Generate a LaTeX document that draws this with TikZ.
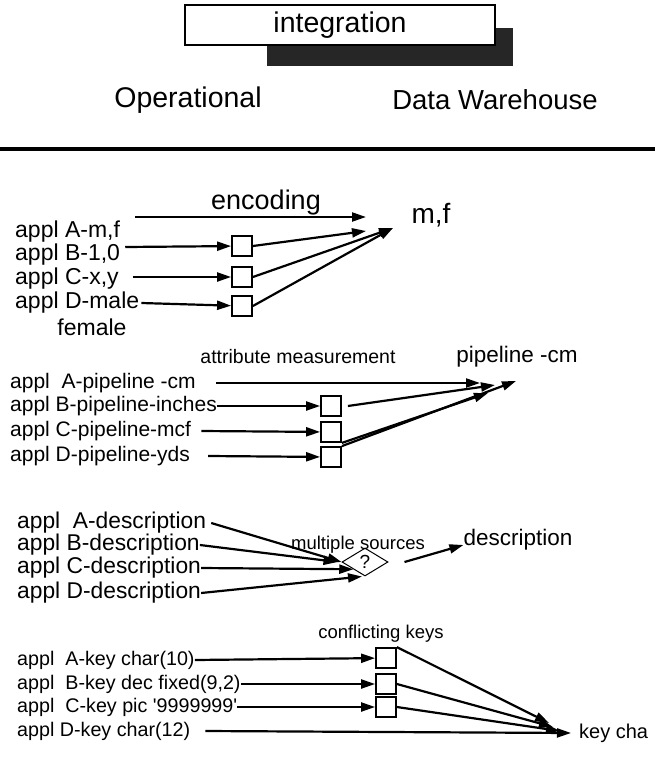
\documentclass[tikz,border=0pt]{standalone}
\usepackage{fontspec}
\setmainfont{Liberation Sans}
\usetikzlibrary{arrows.meta,shapes.geometric}
\begin{document}
\begin{tikzpicture}[x=1pt,y=-1pt,
  lbl/.style={anchor=west,inner sep=0pt,font=\fontsize{#1}{24}\selectfont},
  lbl/.default=21.5,
  ttl/.style={inner sep=0pt,font=\fontsize{#1}{24}\selectfont},
  ttl/.default=21.5,
  head/.style={inner sep=0pt,font=\fontsize{28.5}{32}\selectfont},
  sq/.style={draw,line width=1.8pt,minimum size=20pt,inner sep=0pt},
  arr/.style={line width=2.2pt,-{Triangle[length=14pt,width=9pt]}}]
\useasboundingbox (0,0) rectangle (655,763);
\fill[black!85] (267,28) rectangle (513,66);
\node (integ) [draw,fill=white,line width=1.2pt,minimum width=310pt,minimum height=40pt,head] at (340,25) {integration};
\node (oper) [head] at (188,100) {Operational};
\node (dw) [head,font=\fontsize{27.5}{32}\selectfont] at (495,100) {Data Warehouse};
\draw[line width=4pt] (0,149) -- (655,149);

\node (enc) [ttl=27] at (266,203) {encoding};
\node (mf) [ttl=28] at (431,215) {m,f};
\node (a1) [lbl=23] at (15,232) {appl A-m,f};
\node (b1) [lbl=23] at (15,255) {appl B-1,0};
\node (c1) [lbl=23] at (15,279) {appl C-x,y};
\node (d1) [lbl=23] at (15,303) {appl D-male};
\node (fem) [ttl=23] at (92,327) {female};
\node (bx1b) [sq] at (242,246) {};
\node (bx1c) [sq] at (242,277) {};
\node (bx1d) [sq] at (242,306) {};
\coordinate (t1a) at (366,217);
\coordinate (t1b) at (366,231);
\coordinate (t1c) at (393,228);
\draw[arr] ([xshift=15pt,yshift=15pt]a1.east) -- (t1a);
\draw[arr] ([xshift=5pt,yshift=8pt]b1.east) -- (bx1b);
\draw[arr] ([xshift=14pt,yshift=2pt]c1.east) -- (bx1c);
\draw[arr] ([xshift=2pt]d1.east) -- (bx1d);
\draw[arr] (bx1b.east) -- (t1b);
\draw[arr] (bx1c.east) -- (t1c);
\draw[arr] (bx1d.east) -- (t1c);

\node (attr) [ttl=19.5] at (298,357) {attribute measurement};
\node (pcm) [ttl=22.5] at (517,357) {pipeline -cm};
\node (a2) [lbl=21] at (10,383) {appl\ \ A-pipeline -cm};
\node (b2) [lbl=21] at (10,406) {appl B-pipeline-inches};
\node (c2) [lbl=21] at (10,431) {appl C-pipeline-mcf};
\node (d2) [lbl=21] at (10,456) {appl D-pipeline-yds};
\node (bx2b) [sq] at (331,406) {};
\node (bx2c) [sq] at (331,432) {};
\node (bx2d) [sq] at (331,457) {};
\coordinate (t2a) at (480,383);
\coordinate (t2b) at (495,385);
\coordinate (t2c) at (488,393);
\coordinate (t2d) at (516,381);
\draw[arr] ([xshift=20pt]a2.east) -- (t2a);
\draw[arr] (b2.east) -- (bx2b);
\draw[arr] ([xshift=10pt]c2.east) -- (bx2c);
\draw[arr] ([xshift=18pt]d2.east) -- (bx2d);
\draw[arr] ([xshift=6pt]bx2b.east) -- (t2b);
\draw[arr] (bx2c.south east) -- (t2c);
\draw[arr] (bx2d.north east) -- (t2d);

\node (a3) [lbl=22.8] at (17,523) {appl\ \ A-description};
\node (b3) [lbl=22.8] at (17,545) {appl B-description};
\node (c3) [lbl=22.8] at (17,568) {appl C-description};
\node (d3) [lbl=22.8] at (17,593) {appl D-description};
\node (q) [draw,diamond,aspect=1.6,minimum width=46pt,minimum height=28pt,inner sep=0pt,line width=1pt,font=\fontsize{19}{21}\selectfont] at (365,562) {?};
\node (ms) [ttl=18.5] at (358,545) {multiple sources};
\node (desc) [ttl=22.5] at (518,540) {description};
\draw[arr] ([xshift=5pt]a3.east) -- (q.west);
\draw[arr] (b3.east) -- ([xshift=-4pt]q.west);
\draw[arr] (c3.east) -- (q.south west);
\draw[arr] (d3.east) -- ([xshift=-3pt]q.south);
\draw[arr] ([xshift=16pt]q.east) -- ([yshift=-5pt]desc.west);

\node (ck) [ttl=18.5] at (381,634) {conflicting keys};
\node (a4) [lbl=19.7] at (17,660) {appl\ \ A-key char(10)};
\node (b4) [lbl=19.7] at (17,684) {appl\ \ B-key dec fixed(9,2)};
\node (c4) [lbl=19.7] at (17,707) {appl\ \ C-key pic \textquotesingle 9999999\textquotesingle};
\node (d4) [lbl=19.7] at (17,731) {appl D-key char(12)};
\node (bx4a) [sq] at (386,658) {};
\node (bx4b) [sq] at (386,684) {};
\node (bx4c) [sq] at (386,707) {};
\node (kc) [lbl=20] at (579,733) {key cha};
\coordinate (t4a) at (549,723);
\coordinate (t4b) at (553,727);
\coordinate (t4c) at (560,731);
\coordinate (t4d) at (571,733);
\draw[arr] (a4.east) -- (bx4a);
\draw[arr] (b4.east) -- (bx4b);
\draw[arr] (c4.east) -- (bx4c);
\draw[arr] ([xshift=15pt]d4.east) -- (t4d);
\draw[arr] (bx4a.north east) -- (t4a);
\draw[arr] (bx4b.east) -- (t4b);
\draw[arr] (bx4c.east) -- (t4c);
\end{tikzpicture}
\end{document}
